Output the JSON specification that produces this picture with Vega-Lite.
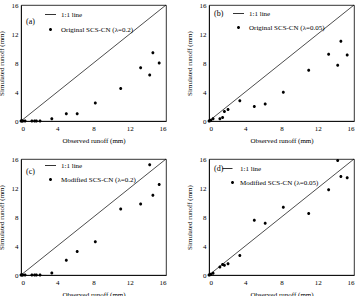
{
  "$schema": "https://vega.github.io/schema/vega-lite/v6.json",
  "autosize": {"type": "pad"},
  "padding": {"left": -4, "top": 0, "right": 0, "bottom": 0},
  "background": "white",
  "datasets": {
    "runoff": [
      {"obs": 0.0, "a": 0, "b": 0.0, "c": 0, "d": 0.0},
      {"obs": 0.1, "a": 0, "b": 0.05, "c": 0, "d": 0.05},
      {"obs": 0.2, "a": 0, "b": 0.1, "c": 0, "d": 0.1},
      {"obs": 0.45, "a": 0, "b": 0.3, "c": 0, "d": 0.25},
      {"obs": 1.2, "a": 0, "b": 0.3, "c": 0, "d": 1.1},
      {"obs": 1.5, "a": 0, "b": 0.5, "c": 0, "d": 1.45},
      {"obs": 1.7, "a": 0, "b": 1.3, "c": 0, "d": 1.35},
      {"obs": 2.1, "a": 0, "b": 1.6, "c": 0, "d": 1.55},
      {"obs": 3.4, "a": 0.3, "b": 2.8, "c": 0.28, "d": 2.7},
      {"obs": 5.0, "a": 1.0, "b": 2.0, "c": 2.05, "d": 7.55},
      {"obs": 6.2, "a": 1.0, "b": 2.35, "c": 3.25, "d": 7.15},
      {"obs": 8.2, "a": 2.5, "b": 3.95, "c": 4.6, "d": 9.35},
      {"obs": 11.0, "a": 4.5, "b": 7.0, "c": 9.1, "d": 8.5},
      {"obs": 13.2, "a": 7.35, "b": 9.2, "c": 9.8, "d": 11.75},
      {"obs": 14.2, "a": 6.35, "b": 7.7, "c": 15.2, "d": 15.8},
      {"obs": 14.55, "a": 9.4, "b": 11.0, "c": 11.0, "d": 13.6},
      {"obs": 15.25, "a": 8.0, "b": 9.1, "c": 12.5, "d": 13.4}
    ],
    "oneToOne": [{"x": 0, "y": 0}, {"x": 16, "y": 16}]
  },
  "columns": 2,
  "spacing": {"column": 16, "row": 10},
  "concat": [
    {
      "width": 145, "height": 116,
      "layer": [
        {"data": {"name": "oneToOne"}, "mark": {"type": "line", "color": "black", "strokeWidth": 0.7},
         "encoding": {"x": {"field": "x", "type": "quantitative", "scale": {"domain": [0, 16], "nice": false}, "axis": {"values": [0, 4, 8, 12, 16], "labelOverlap": false, "title": "Observed runoff (mm)"}},
                      "y": {"field": "y", "type": "quantitative", "scale": {"domain": [0, 16], "nice": false}, "axis": {"values": [0, 4, 8, 12, 16], "labelOverlap": false, "title": "Simulated runoff (mm)"}}}},
        {"data": {"name": "runoff"}, "mark": {"type": "point", "filled": true, "color": "black", "size": 4, "opacity": 1},
         "encoding": {"x": {"field": "obs", "type": "quantitative", "axis": {"values": [0, 4, 8, 12, 16], "labelOverlap": false, "title": "Observed runoff (mm)"}},
                      "y": {"field": "a", "type": "quantitative", "axis": {"values": [0, 4, 8, 12, 16], "labelOverlap": false, "title": "Simulated runoff (mm)"}},
                      "shape": {"datum": "Original SCS-CN (λ=0.2)", "type": "nominal",
                        "scale": {"domain": ["1:1 line", "Original SCS-CN (λ=0.2)"], "range": ["M-5.5,-0.4H5.5V0.4H-5.5Z", "M0,-1.5A1.5,1.5 0 1 1 0,1.5A1.5,1.5 0 1 1 0,-1.5Z"]},
                        "legend": {"orient": "none", "legendX": 5, "legendY": 6, "title": "(a)", "titleOrient": "left", "titleAnchor": "middle", "titlePadding": 12, "rowPadding": 7, "labelOffset": 7, "symbolSize": 4,
                                   "encode": {"symbols": {"update": {"fill": {"value": "black"}, "opacity": {"value": 1}}}}}}}}
      ]
    },
    {
      "width": 145, "height": 116,
      "layer": [
        {"data": {"name": "oneToOne"}, "mark": {"type": "line", "color": "black", "strokeWidth": 0.7},
         "encoding": {"x": {"field": "x", "type": "quantitative", "scale": {"domain": [0, 16], "nice": false}, "axis": {"values": [0, 4, 8, 12, 16], "labelOverlap": false, "title": "Observed runoff (mm)"}},
                      "y": {"field": "y", "type": "quantitative", "scale": {"domain": [0, 16], "nice": false}, "axis": {"values": [0, 4, 8, 12, 16], "labelOverlap": false, "title": "Simulated runoff (mm)"}}}},
        {"data": {"name": "runoff"}, "mark": {"type": "point", "filled": true, "color": "black", "size": 4, "opacity": 1},
         "encoding": {"x": {"field": "obs", "type": "quantitative", "axis": {"values": [0, 4, 8, 12, 16], "labelOverlap": false, "title": "Observed runoff (mm)"}},
                      "y": {"field": "b", "type": "quantitative", "axis": {"values": [0, 4, 8, 12, 16], "labelOverlap": false, "title": "Simulated runoff (mm)"}},
                      "shape": {"datum": "Original SCS-CN (λ=0.05)", "type": "nominal",
                        "scale": {"domain": ["1:1 line", "Original SCS-CN (λ=0.05)"], "range": ["M-5.5,-0.4H5.5V0.4H-5.5Z", "M0,-1.5A1.5,1.5 0 1 1 0,1.5A1.5,1.5 0 1 1 0,-1.5Z"]},
                        "legend": {"orient": "none", "legendX": 5, "legendY": 5, "title": "(b)", "titleOrient": "left", "titleAnchor": "start", "titlePadding": 11, "rowPadding": 6, "labelOffset": 7, "symbolSize": 4,
                                   "encode": {"symbols": {"update": {"fill": {"value": "black"}, "opacity": {"value": 1}}}}}}}}
      ]
    },
    {
      "width": 145, "height": 116,
      "layer": [
        {"data": {"name": "oneToOne"}, "mark": {"type": "line", "color": "black", "strokeWidth": 0.7},
         "encoding": {"x": {"field": "x", "type": "quantitative", "scale": {"domain": [0, 16], "nice": false}, "axis": {"values": [0, 4, 8, 12, 16], "labelOverlap": false, "title": "Observed runoff (mm)"}},
                      "y": {"field": "y", "type": "quantitative", "scale": {"domain": [0, 16], "nice": false}, "axis": {"values": [0, 4, 8, 12, 16], "labelOverlap": false, "title": "Simulated runoff (mm)"}}}},
        {"data": {"name": "runoff"}, "mark": {"type": "point", "filled": true, "color": "black", "size": 4, "opacity": 1},
         "encoding": {"x": {"field": "obs", "type": "quantitative", "axis": {"values": [0, 4, 8, 12, 16], "labelOverlap": false, "title": "Observed runoff (mm)"}},
                      "y": {"field": "c", "type": "quantitative", "axis": {"values": [0, 4, 8, 12, 16], "labelOverlap": false, "title": "Simulated runoff (mm)"}},
                      "shape": {"datum": "Modified SCS-CN (λ=0.2)", "type": "nominal",
                        "scale": {"domain": ["1:1 line", "Modified SCS-CN (λ=0.2)"], "range": ["M-5.5,-0.4H5.5V0.4H-5.5Z", "M0,-1.5A1.5,1.5 0 1 1 0,1.5A1.5,1.5 0 1 1 0,-1.5Z"]},
                        "legend": {"orient": "none", "legendX": 5, "legendY": 3, "title": "(c)", "titleOrient": "left", "titleAnchor": "middle", "titlePadding": 12, "rowPadding": 6, "labelOffset": 7, "symbolSize": 4,
                                   "encode": {"symbols": {"update": {"fill": {"value": "black"}, "opacity": {"value": 1}}}}}}}}
      ]
    },
    {
      "width": 145, "height": 116,
      "layer": [
        {"data": {"name": "oneToOne"}, "mark": {"type": "line", "color": "black", "strokeWidth": 0.7},
         "encoding": {"x": {"field": "x", "type": "quantitative", "scale": {"domain": [0, 16], "nice": false}, "axis": {"values": [0, 4, 8, 12, 16], "labelOverlap": false, "title": "Observed runoff (mm)"}},
                      "y": {"field": "y", "type": "quantitative", "scale": {"domain": [0, 16], "nice": false}, "axis": {"values": [0, 4, 8, 12, 16], "labelOverlap": false, "title": "Simulated runoff (mm)"}}}},
        {"data": {"name": "runoff"}, "mark": {"type": "point", "filled": true, "color": "black", "size": 4, "opacity": 1},
         "encoding": {"x": {"field": "obs", "type": "quantitative", "axis": {"values": [0, 4, 8, 12, 16], "labelOverlap": false, "title": "Observed runoff (mm)"}},
                      "y": {"field": "d", "type": "quantitative", "axis": {"values": [0, 4, 8, 12, 16], "labelOverlap": false, "title": "Simulated runoff (mm)"}},
                      "shape": {"datum": "Modified SCS-CN (λ=0.05)", "type": "nominal",
                        "scale": {"domain": ["1:1 line", "Modified SCS-CN (λ=0.05)"], "range": ["M-10,-0.4H0V0.4H-10Z", "M0,-1.5A1.5,1.5 0 1 1 0,1.5A1.5,1.5 0 1 1 0,-1.5Z"]},
                        "legend": {"orient": "none", "legendX": 5, "legendY": 6, "title": "(d)", "titleOrient": "left", "titleAnchor": "start", "titlePadding": 5, "rowPadding": 6, "labelOffset": 4, "symbolSize": 4,
                                   "encode": {"symbols": {"update": {"fill": {"value": "black"}, "opacity": {"value": 1}}}}}}}}
      ]
    }
  ],
  "resolve": {"scale": {"shape": "independent"}, "legend": {"shape": "independent"}},
  "config": {
    "font": "Liberation Serif",
    "view": {"stroke": "black", "strokeWidth": 0.8},
    "axis": {"grid": false, "domainColor": "black", "domainWidth": 0.8, "ticks": false,
             "labelFontSize": 7, "labelColor": "black", "labelFont": "Liberation Serif", "labelPadding": 3, "labelOverlap": false,
             "titleFontSize": 7, "titleFontWeight": "normal", "titleColor": "black", "titleFont": "Liberation Serif"},
    "axisX": {"titlePadding": 5},
    "axisY": {"titlePadding": 7},
    "legend": {"labelFontSize": 7, "labelFont": "Liberation Serif", "labelColor": "black", "titleFontSize": 8, "titleFontWeight": "normal", "titleFont": "Liberation Serif", "titleColor": "black",
               "symbolStrokeColor": "black", "symbolStrokeWidth": 0.5, "symbolFillColor": "black", "symbolOpacity": 1}
  }
}
